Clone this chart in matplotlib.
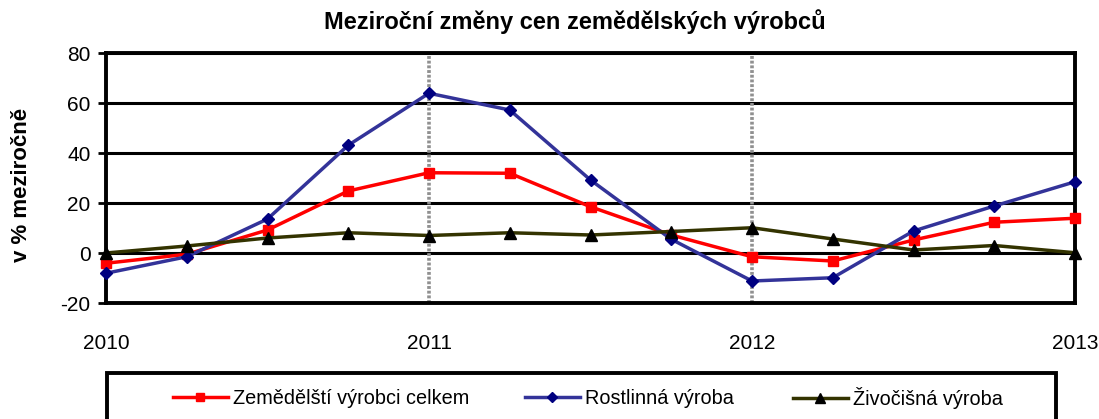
import numpy as np
import matplotlib
matplotlib.use("Agg")
import matplotlib.pyplot as plt
from matplotlib.patches import Rectangle

plt.rcParams['font.family'] = ['Liberation Sans', 'DejaVu Sans']
plt.rcParams['axes.unicode_minus'] = False

# quarterly points, 2010 .. 2013
quarters = np.arange(13) / 4 + 2010
celkem = [-4.1, -0.5, 9.2, 24.8, 32.1, 31.9, 18.5, 7.2, -1.5, -3.2, 5.2, 12.3, 13.9]
rostlinna = [-8.1, -1.5, 13.6, 43.1, 63.9, 57.2, 29.2, 5.5, -11.2, -9.9, 8.8, 18.8, 28.5]
zivocisna = [0.0, 2.8, 6.0, 8.1, 7.0, 8.1, 7.2, 8.6, 10.1, 5.6, 1.2, 3.0, 0.1]

series_names = ["Zemědělští výrobci celkem", "Rostlinná výroba", "Živočišná výroba"]
title = "Meziroční změny cen zemědělských výrobců"
ylabel = "v % meziročně"
year_ticks = [2010, 2011, 2012, 2013]
y_ticks = [-20, 0, 20, 40, 60, 80]

W, H = 1099, 419
fig = plt.figure(figsize=(W / 100, H / 100), dpi=100)
ax = fig.add_axes([106 / W, 1 - 303 / H, (1075 - 106) / W, (303 - 53) / H])

# horizontal grid
for y in y_ticks:
    ax.axhline(y, color='black', lw=2.2, zorder=1)
# vertical dotted grid at year boundaries
for x in year_ticks[1:-1]:
    ax.axvline(x, color='#909090', lw=2.6, ls=(0, (0.8, 0.5)), zorder=1)

lines = []
lines += ax.plot(quarters, celkem, color='#FF0000', lw=2.5, marker='s', ms=7,
                 mfc='#FF0000', mec='#FF0000', zorder=3, clip_on=False)
lines += ax.plot(quarters, rostlinna, color='#333399', lw=2.5, marker='D', ms=6.5,
                 mfc='#000080', mec='#000080', zorder=4, clip_on=False)
lines += ax.plot(quarters, zivocisna, color='#333300', lw=2.5, marker='^', ms=8,
                 mfc='black', mec='black', zorder=5, clip_on=False)

ax.set_xlim(2010, 2013)
ax.set_ylim(-20, 80)
ax.set_yticks(y_ticks)
ax.set_xticks(year_ticks)
ax.tick_params(axis='y', length=6, width=2, labelsize=15, pad=5)
ax.tick_params(axis='x', length=0, labelsize=15, pad=22)
for side in ['left', 'right', 'bottom', 'top']:
    ax.spines[side].set_linewidth(2.8)
    ax.spines[side].set_color('black')

fig.text(575 / W, 1 - 22 / H, title, ha='center', va='center',
         fontsize=17, fontweight='bold')
fig.text(22 / W, 1 - 185 / H, ylabel, ha='center', va='center', rotation=90,
         fontsize=16, fontweight='bold')

# legend box (extends past the lower edge)
fig.patches.append(Rectangle((107 / W, -0.05), (1056 - 107) / W, 0.05 + 1 - 373 / H,
                             transform=fig.transFigure, fill=False,
                             edgecolor='black', lw=2.8))
legend_x = [173, 525, 793]
for line, name, lx in zip(lines, series_names, legend_x):
    fig.legend([line], [name], loc='center left', bbox_to_anchor=(lx / W, 1 - 398 / H),
               frameon=False, fontsize=14.3, handlelength=2.76, handletextpad=0.25,
               borderpad=0, borderaxespad=0, markerscale=0.85)

fig.savefig("out.png", dpi=100)
